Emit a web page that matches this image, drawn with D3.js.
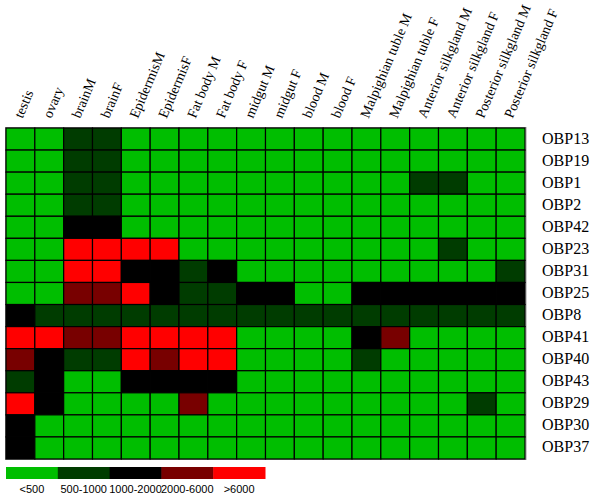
<!DOCTYPE html>
<html>
<head>
<meta charset="utf-8">
<script src="https://cdn.jsdelivr.net/npm/d3@7"></script>
<style>
  body { margin: 0; background: #fff; }
  svg { display: block; }
  .serif { font-family: "Liberation Serif", "Times New Roman", Times, "DejaVu Serif", serif; font-size: 14px; }
  .row { font-size: 16px; }
  .sans { font-family: "Liberation Sans", Arial, Helvetica, sans-serif; font-size: 11px; }
</style>
</head>
<body>
<script>
// OBP expression heatmap across tissues

var width = 600,
    height = 499;

var tissues = ["testis", "ovary", "brainM", "brainF", "EpidermisM", "EpidermisF",
  "Fat body M", "Fat body F", "midgut M", "midgut F", "blood M", "blood F",
  "Malpighian tuble M", "Malpighian tuble F", "Anterior silkgland M",
  "Anterior silkgland F", "Posterior silkgland M", "Posterior silkgland F"];

var genes = ["OBP13", "OBP19", "OBP1", "OBP2", "OBP42", "OBP23", "OBP31", "OBP25",
  "OBP8", "OBP41", "OBP40", "OBP43", "OBP29", "OBP30", "OBP37"];

// expression class per gene (0 = <500 ... 4 = >6000), one entry per tissue
var levels = [
  [0,0,1,1,0,0,0,0,0,0,0,0,0,0,0,0,0,0], // OBP13
  [0,0,1,1,0,0,0,0,0,0,0,0,0,0,0,0,0,0], // OBP19
  [0,0,1,1,0,0,0,0,0,0,0,0,0,0,1,1,0,0], // OBP1
  [0,0,1,1,0,0,0,0,0,0,0,0,0,0,0,0,0,0], // OBP2
  [0,0,2,2,0,0,0,0,0,0,0,0,0,0,0,0,0,0], // OBP42
  [0,0,4,4,4,4,0,0,0,0,0,0,0,0,0,1,0,0], // OBP23
  [0,0,4,4,2,2,1,2,0,0,0,0,0,0,0,0,0,1], // OBP31
  [0,0,3,3,4,2,1,1,2,2,0,0,2,2,2,2,2,2], // OBP25
  [2,1,1,1,1,1,1,1,1,1,1,1,1,1,1,1,1,1], // OBP8
  [4,4,3,3,4,4,4,4,0,0,0,0,2,3,0,0,0,0], // OBP41
  [3,2,1,1,4,3,4,4,0,0,0,0,1,0,0,0,0,0], // OBP40
  [1,2,0,0,2,2,2,2,0,0,0,0,0,0,0,0,0,0], // OBP43
  [4,2,0,0,0,0,3,0,0,0,0,0,0,0,0,0,1,0], // OBP29
  [2,0,0,0,0,0,0,0,0,0,0,0,0,0,0,0,0,0], // OBP30
  [2,0,0,0,0,0,0,0,0,0,0,0,0,0,0,0,0,0]  // OBP37
];

var legendLabels = ["<500", "500-1000", "1000-2000", "2000-6000", ">6000"];
var palette = ["#00be00", "#003c00", "#000000", "#780000", "#ff0000"];

var svg = d3.select("body").append("svg")
    .attr("width", width)
    .attr("height", height);

var x = d3.scaleBand().domain(tissues).range([6, 525]),
    y = d3.scaleBand().domain(genes).range([128, 459]),
    color = d3.scaleOrdinal().domain(d3.range(5)).range(palette);

// flatten matrix into cells
var cells = [];
levels.forEach(function(row, i) {
  row.forEach(function(v, j) {
    cells.push({gene: genes[i], tissue: tissues[j], level: v});
  });
});

svg.append("rect") // faint outer frame
    .attr("x", 5.5).attr("y", 127.5)
    .attr("width", 520.5).attr("height", 332)
    .attr("fill", "none")
    .attr("stroke", "#999");

svg.selectAll("rect.cell")
    .data(cells)
  .enter().append("rect")
    .attr("class", "cell")
    .attr("x", function(d) { return x(d.tissue); })
    .attr("y", function(d) { return y(d.gene); })
    .attr("width", x.bandwidth())
    .attr("height", y.bandwidth())
    .attr("fill", function(d) { return color(d.level); })
    .attr("stroke", "#000")
    .attr("stroke-width", 1.2);

// slanted tissue labels
svg.selectAll("text.col")
    .data(tissues)
  .enter().append("text")
    .attr("class", "col serif")
    .attr("transform", function(d) {
      return "translate(" + (x(d) + x.bandwidth() / 2 + 2) + ",119) rotate(-67)";
    })
    .text(function(d) { return d; });

// gene labels on the right
svg.selectAll("text.row")
    .data(genes)
  .enter().append("text")
    .attr("class", "row serif")
    .attr("x", 542)
    .attr("y", function(d) { return y(d) + y.bandwidth() / 2 + 4.5; })
    .text(function(d) { return d; });

// colour key
var lx = d3.scaleBand().domain(legendLabels).range([6, 265]);

svg.selectAll("rect.key")
    .data(legendLabels)
  .enter().append("rect")
    .attr("class", "key")
    .attr("x", function(d) { return lx(d); })
    .attr("y", 467)
    .attr("width", lx.bandwidth() + 0.5)
    .attr("height", 12)
    .attr("fill", function(d, i) { return palette[i]; });

svg.selectAll("text.keylabel")
    .data(legendLabels)
  .enter().append("text")
    .attr("class", "keylabel sans")
    .attr("x", function(d) { return lx(d) + lx.bandwidth() / 2; })
    .attr("y", 493)
    .attr("text-anchor", "middle")
    .text(function(d) { return d; });
</script>
</body>
</html>
